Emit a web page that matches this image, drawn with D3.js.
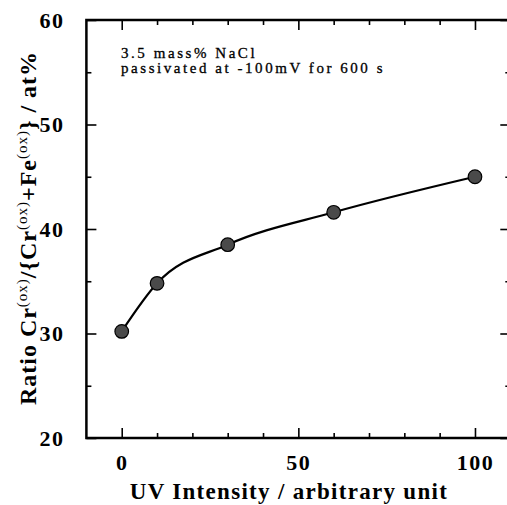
<!DOCTYPE html>
<html>
<head>
<meta charset="utf-8">
<script src="https://cdn.jsdelivr.net/npm/d3@7"></script>
<style>
    body { margin: 0; background: #fff; }
    svg { display: block; }
    .tick text { font-family: "Liberation Serif", "DejaVu Serif", serif; font-weight: bold; }
</style>
</head>
<body>
<div id="chart"></div>
<script>
// UV intensity (arbitrary unit) vs Cr ratio in the passive film
var uvIntensity = [0, 10, 30, 60, 100],
    crRatio = [30.2, 34.8, 38.5, 41.6, 45.0],
    xTickValues = [0, 50, 100],
    xMinorValues = [10, 20, 30, 40, 60, 70, 80, 90],
    yTickValues = [20, 30, 40, 50, 60],
    yMinorValues = [25, 35, 45, 55],
    noteLines = ['3.5 mass% NaCl', 'passivated at -100mV for 600 s']
;

var width = 507,
    height = 505,
    font = '"Liberation Serif", "DejaVu Serif", serif'
;

var svg = d3
    .select('#chart')
    .append('svg')
    .attr('width', width)
    .attr('height', height)
;

// Setup scales
var x = d3.scaleLinear().domain([-10, 110]).range([86.4, 510.3]),
    y = d3.scaleLinear().domain([20, 60]).range([438, 20]);

// Frame
svg.append('rect')
    .attr('x', x(-10))
    .attr('y', y(60))
    .attr('width', x(110) - x(-10))
    .attr('height', y(20) - y(60))
    .attr('fill', 'none')
    .attr('stroke', '#000')
    .attr('stroke-width', 2.5)
;

// Axes, ticks point inwards
function drawAxis(axis, transform, labels) {
    var g = svg.append('g')
        .attr('transform', transform)
        .call(axis);
    g.select('.domain').remove();
    g.selectAll('.tick line').attr('stroke', '#000').attr('stroke-width', 1.6);
    if (!labels) g.selectAll('.tick text').remove();
    return g;
}

var bottom = drawAxis(d3.axisBottom(x).tickValues(xTickValues).tickSizeInner(-10).tickPadding(16),
    'translate(0,' + y(20) + ')', true);
bottom.selectAll('.tick text')
    .attr('font-size', 22)
    .attr('letter-spacing', 1.5)
    .attr('fill', '#000');
drawAxis(d3.axisBottom(x).tickValues(xMinorValues).tickSizeInner(-5), 'translate(0,' + y(20) + ')', false);
drawAxis(d3.axisTop(x).tickValues(xTickValues).tickSizeInner(-10), 'translate(0,' + y(60) + ')', false);
drawAxis(d3.axisTop(x).tickValues(xMinorValues).tickSizeInner(-5), 'translate(0,' + y(60) + ')', false);

var left = drawAxis(d3.axisLeft(y).tickValues(yTickValues).tickSizeInner(-10).tickPadding(22),
    'translate(' + x(-10) + ',0)', true);
left.selectAll('.tick text')
    .attr('font-size', 22)
    .attr('letter-spacing', 1.5)
    .attr('fill', '#000');
drawAxis(d3.axisLeft(y).tickValues(yMinorValues).tickSizeInner(-5), 'translate(' + x(-10) + ',0)', false);
drawAxis(d3.axisRight(y).tickValues(yTickValues).tickSizeInner(-10), 'translate(' + x(110) + ',0)', false);
drawAxis(d3.axisRight(y).tickValues(yMinorValues).tickSizeInner(-5), 'translate(' + x(110) + ',0)', false);

// Data line
var points = uvIntensity.map(function(d, i) {
    return {uv: d, ratio: crRatio[i]};
});

var line = d3.line()
    .curve(d3.curveMonotoneX)
    .x(function(d) { return x(d.uv); })
    .y(function(d) { return y(d.ratio); });

svg.append('path')
    .datum(points)
    .attr('d', line)
    .attr('fill', 'none')
    .attr('stroke', '#000')
    .attr('stroke-width', 2.2)
;

svg.selectAll('.dot')
    .data(points)
    .enter()
    .append('circle')
    .attr('class', 'dot')
    .attr('cx', function(d) { return x(d.uv); })
    .attr('cy', function(d) { return y(d.ratio); })
    .attr('r', 6.8)
    .attr('fill', '#4a4a4a')
    .attr('stroke', '#000')
    .attr('stroke-width', 1.2)
;

// Note text
svg.selectAll('.note')
    .data(noteLines)
    .enter()
    .append('text')
    .attr('class', 'note')
    .attr('x', 121)
    .attr('y', function(d, i) { return 58 + i * 15; })
    .attr('font-family', font)
    .attr('font-size', 15)
    .attr('letter-spacing', 2.55)
    .attr('stroke', '#000')
    .attr('stroke-width', 0.3)
    .text(function(d) { return d; })
;

// Axis titles
svg.append('text')
    .attr('x', 289)
    .attr('y', 499)
    .attr('text-anchor', 'middle')
    .attr('font-family', font)
    .attr('font-weight', 'bold')
    .attr('font-size', 23)
    .attr('letter-spacing', 1.3)
    .text('UV Intensity / arbitrary unit')
;

var yTitle = svg.append('text')
    .attr('transform', 'translate(36,228) rotate(-90)')
    .attr('text-anchor', 'middle')
    .attr('font-family', font)
    .attr('font-weight', 'bold')
    .attr('font-size', 24)
    .attr('letter-spacing', 1)
;

var titleParts = [
    ['Ratio Cr', 0], ['(ox)', 1], ['/{Cr', 0], ['(ox)', 1], ['+Fe', 0], ['(ox)', 1], ['}', 0], [' / at%', 0]
];
var shift = 0;
titleParts.forEach(function(p) {
    var dy = (p[1] ? -9 : 0) - shift;
    shift += dy;
    yTitle.append('tspan')
        .attr('dy', dy)
        .attr('font-size', p[1] ? 15 : 24)
        .attr('font-weight', p[1] ? 'normal' : 'bold')
        .text(p[0]);
});
</script>
</body>
</html>
